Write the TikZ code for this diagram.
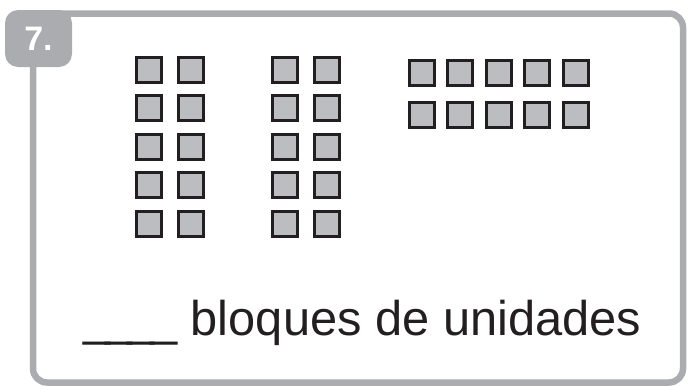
\documentclass[tikz,border=0pt]{standalone}
\usepackage{fontspec}
\setmainfont{Liberation Sans}
\usepackage{tikz}
\usetikzlibrary{positioning}

\definecolor{framegray}{HTML}{ABACAF}
\definecolor{blockgray}{HTML}{BCBDC1}
\definecolor{inkblack}{HTML}{231F20}

\begin{document}
\begin{tikzpicture}[
    x=1pt, y=-1pt,
    frame/.style={draw=framegray, line width=6.5pt, rounded corners=14pt},
    badge/.style={rectangle, rounded corners=13pt, fill=framegray, minimum width=67pt, minimum height=57pt, text=white, font=\fontsize{34}{36}\selectfont\bfseries},
    unitsq/.style={rectangle, draw=inkblack, fill=blockgray, line width=3pt, minimum size=25pt, inner sep=0pt},
    caption/.style={inner sep=0pt, text=inkblack, font=\fontsize{48.8}{50}\selectfont}
]
\useasboundingbox (0,0) rectangle (689,386);

% outer card and number tab
\draw[frame] (33,13.5) rectangle (683,382.5);
\node (num) [badge] at (38.5,38.5) {7.};

% two columns of ten
\foreach \g/\gx in {a/148.5, b/285} {
  \foreach \r in {0,...,4} {
    \node (\g-\r-1) [unitsq] at (\gx, 70+38.4*\r) {};
    \node (\g-\r-2) [unitsq] at (\gx+42, 70+38.4*\r) {};
  }
}

% loose units
\foreach \c in {0,...,4} {
  \node (u-\c-1) [unitsq] at (421.5+38.5*\c, 72.5) {};
  \node (u-\c-2) [unitsq] at (421.5+38.5*\c, 114.5) {};
}

\node (answer) [caption, anchor=base east] at (641.5,335) {\_\kern-4.8pt\_\kern-4.8pt\_\kern-4.8pt\_ bloques de unidades};

\end{tikzpicture}
\end{document}
